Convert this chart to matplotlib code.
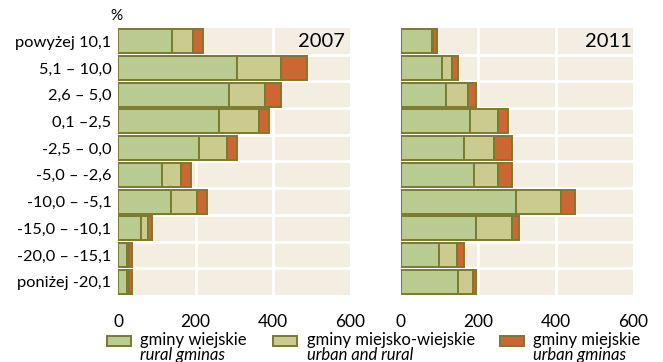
import matplotlib
matplotlib.use("Agg")
import matplotlib.pyplot as plt
from matplotlib.patches import Rectangle
import numpy as np

plt.rcParams['font.family'] = ['Lato', 'DejaVu Sans']

categories = ["powyżej 10,1", "5,1 – 10,0", "2,6 – 5,0", "0,1 –2,5", "-2,5 – 0,0",
              "-5,0 – -2,6", "-10,0 – -5,1", "-15,0 – -10,1", "-20,0 – -15,1", "poniżej -20,1"]
rural_2007 = [140, 308, 286, 260, 209, 112, 137, 58, 22, 22]
urbrur_2007 = [52, 113, 93, 103, 73, 50, 66, 20, 5, 5]
urban_2007 = [26, 66, 42, 26, 24, 26, 26, 8, 8, 8]
rural_2011 = [80, 107, 117, 179, 162, 189, 297, 194, 97, 148]
urbrur_2011 = [4, 26, 57, 72, 79, 62, 118, 92, 47, 37]
urban_2011 = [9, 15, 20, 26, 45, 36, 35, 20, 18, 9]
xticks = [0, 200, 400, 600]
years = ["2007", "2011"]
series_pl = ["gminy wiejskie", "gminy miejsko-wiejskie", "gminy miejskie"]
series_en = ["rural gminas", "urban and rural", "urban gminas"]

colors = ["#b9cb91", "#cbca8f", "#cc6633"]
edge = "#7b7a2e"
bg = "#f4eee2"

W, H = 663, 362
fig = plt.figure(figsize=(W / 100, H / 100), dpi=100)


def fx(x):
    return x / W


def fy(y):
    return 1 - y / H


panels = [
    (118.3, [rural_2007, urbrur_2007, urban_2007], years[0], 345),
    (401.0, [rural_2011, urbrur_2011, urban_2011], years[1], 632),
]
top, bottom = 28, 295
y = np.arange(len(categories))
for i, (x0, series, year, yr_x) in enumerate(panels):
    ax = fig.add_axes([fx(x0), fy(bottom), 232 / W, (bottom - top) / H])
    ax.set_facecolor(bg)
    left = np.zeros(len(categories))
    for vals, c in zip(series, colors):
        ax.barh(y, vals, left=left, height=0.9, color=c, edgecolor=edge,
                linewidth=1.4, zorder=3)
        left += np.array(vals)
    ax.set_xlim(0, 600)
    ax.set_ylim(len(categories) - 0.5, -0.5)
    for xv in xticks[1:-1]:
        ax.axvline(xv, color="white", lw=2, zorder=1)
    for k in range(len(categories) - 1):
        ax.axhline(k + 0.5, color="white", lw=2, zorder=1)
    for s in ax.spines.values():
        s.set_visible(False)
    ax.set_xticks(xticks)
    ax.set_xticklabels([str(t) for t in xticks], fontsize=12.5)
    ax.tick_params(axis="x", length=0, pad=14)
    ax.set_yticks(y)
    if i == 0:
        ax.set_yticklabels(categories, fontsize=11.8)
        ax.tick_params(axis="y", length=0, pad=5)
    else:
        ax.set_yticklabels([])
        ax.tick_params(axis="y", length=0)
    fig.text(fx(yr_x), fy(41.5), year, ha="right", va="center", fontsize=14.5)

fig.text(fx(116), fy(16), "%", ha="center", va="center", fontsize=11)

# legend
leg_patch_x = [107, 273, 500]
leg_text_x = [140, 307, 533]
for px, tx, c, pl, en in zip(leg_patch_x, leg_text_x, colors, series_pl, series_en):
    fig.add_artist(Rectangle((fx(px), fy(345.5)), 24 / W, 9.5 / H,
                             transform=fig.transFigure, facecolor=c,
                             edgecolor=edge, linewidth=1.4))
    fig.text(fx(tx), fy(345.5), pl, ha="left", va="baseline", fontsize=12)
    fig.text(fx(tx), fy(360), en, ha="left", va="baseline", fontsize=12,
             style="italic")

fig.savefig("out.png", dpi=100)
